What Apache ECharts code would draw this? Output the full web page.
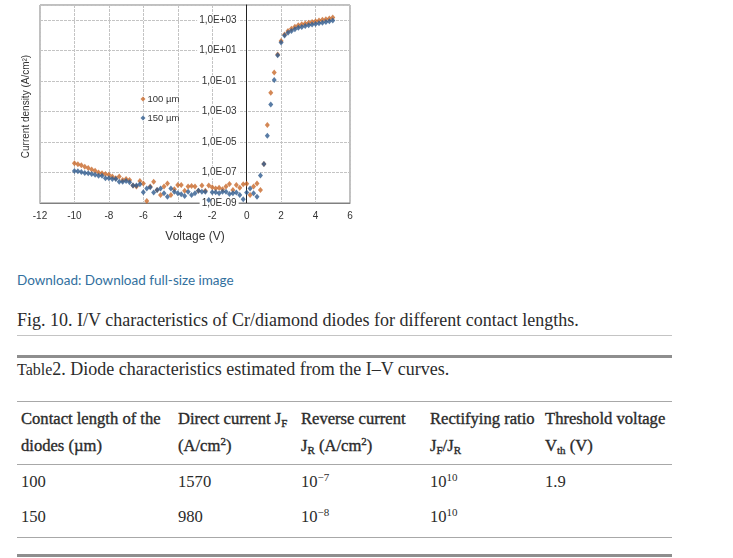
<!DOCTYPE html>
<html><head><meta charset="utf-8">
<script src="https://cdn.jsdelivr.net/npm/echarts@6/dist/echarts.min.js"></script>
<style>
html,body{margin:0;padding:0;background:#fff;}
body{width:733px;height:558px;position:relative;overflow:hidden;font-family:'Liberation Serif',serif;color:#2b2b2b;}
#chart{position:absolute;left:0;top:0;width:733px;height:252px;}
.t{position:absolute;white-space:nowrap;}
.ln{position:absolute;left:17px;width:655px;}
.hd{-webkit-text-stroke:0.35px #2b2b2b;}
.c{font-size:16.6px;line-height:20px;}
.sp{font-size:11px;position:relative;top:-6px;}
.sb{font-size:11px;position:relative;top:3px;}
</style></head>
<body>
<div id="chart"></div>
<div class="t" style="left:17px;top:272px;font-family:Lato,'Noto Sans',sans-serif;font-size:13.5px;line-height:17px;color:#32709e;">Download: Download full-size image</div>
<div class="t" style="left:17px;top:310px;font-size:18px;line-height:21px;">Fig. 10. I/V characteristics of Cr/diamond diodes for different contact lengths.</div>
<div class="ln" style="top:335px;height:1px;background:#c4c4c4;"></div>
<div class="ln" style="top:355px;height:3px;background:#8e8e8e;"></div>
<div class="t" style="left:17px;top:359px;font-size:18px;line-height:21px;"><span style="font-size:16px;">Table</span>2. Diode characteristics estimated from the I–V curves.</div>
<div class="ln" style="top:401px;height:1px;background:#a8a8a8;"></div>
<div class="ln" style="top:464px;height:1px;background:#a8a8a8;"></div>
<div class="ln" style="top:537px;height:1px;background:#a8a8a8;"></div>
<div class="ln" style="top:554px;height:3px;background:#8e8e8e;"></div>

<div class="t c hd" style="left:21px;top:409px;">Contact length of the</div>
<div class="t c hd" style="left:21px;top:436px;">diodes (µm)</div>
<div class="t c hd" style="left:178px;top:409px;">Direct current J<span class="sb">F</span></div>
<div class="t c hd" style="left:178px;top:436px;">(A/cm<span class="sp">2</span>)</div>
<div class="t c hd" style="left:301px;top:409px;">Reverse current</div>
<div class="t c hd" style="left:301px;top:436px;">J<span class="sb">R</span> (A/cm<span class="sp">2</span>)</div>
<div class="t c hd" style="left:430px;top:409px;">Rectifying ratio</div>
<div class="t c hd" style="left:430px;top:436px;">J<span class="sb">F</span>/J<span class="sb">R</span></div>
<div class="t c hd" style="left:545px;top:409px;">Threshold voltage</div>
<div class="t c hd" style="left:545px;top:436px;">V<span class="sb">th</span> (V)</div>

<div class="t c" style="left:21px;top:472px;">100</div>
<div class="t c" style="left:178px;top:472px;">1570</div>
<div class="t c" style="left:301px;top:472px;">10<span class="sp">−7</span></div>
<div class="t c" style="left:430px;top:472px;">10<span class="sp">10</span></div>
<div class="t c" style="left:545px;top:472px;">1.9</div>
<div class="t c" style="left:21px;top:507px;">150</div>
<div class="t c" style="left:178px;top:507px;">980</div>
<div class="t c" style="left:301px;top:507px;">10<span class="sp">−8</span></div>
<div class="t c" style="left:430px;top:507px;">10<span class="sp">10</span></div>

<script>
const voltage = [-10,-9.8,-9.6,-9.4,-9.2,-9,-8.8,-8.6,-8.4,-8.2,-8,-7.8,-7.6,-7.4,-7.2,-7,-6.8,-6.6,-6.4,-6.2,-6,-5.8,-5.6,-5.4,-5.2,-5,-4.8,-4.6,-4.4,-4.2,-4,-3.8,-3.6,-3.4,-3.2,-3,-2.8,-2.6,-2.4,-2.2,-2,-1.8,-1.6,-1.4,-1.2,-1,-0.8,-0.6,-0.4,-0.2,0,0.2,0.4,0.6,0.8,1,1.2,1.4,1.6,1.8,2,2.2,2.4,2.6,2.8,3,3.2,3.4,3.6,3.8,4,4.2,4.4,4.6,4.8,5];
const j100 = [4.0e-7,3.5e-7,3.0e-7,2.4e-7,2.0e-7,1.6e-7,1.3e-7,1.0e-7,8.9e-8,8.0e-8,7.2e-8,5.4e-8,4.2e-8,5.4e-8,3.2e-8,3.7e-8,3.2e-8,1.4e-8,1.2e-8,2.8e-8,1.9e-8,1.35e-9,1.2e-8,2.5e-8,7.1e-9,3.3e-9,1.2e-8,1.9e-8,3.3e-9,7.9e-9,1.5e-8,1.5e-8,6.4e-9,1.2e-8,1.3e-8,1.2e-8,6.4e-9,1.4e-8,6.4e-9,1.4e-8,1.07e-8,9.1e-9,1.0e-8,7.9e-9,1.2e-8,1.8e-8,7.1e-9,1.5e-8,1.0e-8,1.7e-8,
  1.85e-8,3.3e-9,1.2e-8,1.9e-8,7.1e-9,3.6e-7,1.3e-4,1.7e-2,0.37,5.6,44,115,200,280,380,470,537,617,692,776,871,955,1070,1175,1318,1510];
const j150 = [1.26e-7,1.2e-7,1.07e-7,9.3e-8,8.9e-8,8.0e-8,7.2e-8,6.2e-8,6.2e-8,4.2e-8,4.2e-8,3.7e-8,3.7e-8,2.5e-8,2.5e-8,2.8e-8,2.3e-8,1.4e-8,1.4e-8,1.7e-8,5.0e-9,9.1e-9,1.07e-8,4.8e-9,7.1e-9,9.1e-9,4.3e-9,2.6e-9,9.1e-9,5.5e-9,4.3e-9,3.7e-9,2.9e-9,5.5e-9,3.3e-9,4.3e-9,6.4e-9,5.5e-9,5.5e-9,1.6e-9,5.0e-9,5.0e-9,4.3e-9,5.5e-9,5.5e-9,3.9e-9,4.3e-9,4.8e-9,3.3e-9,1.75e-9,
  4.8e-9,9.1e-9,4.3e-9,2.6e-9,6.3e-8,3.6e-7,2.6e-5,2.95e-3,0.117,5.0,35,100,148,200,257,316,363,417,468,525,575,631,692,759,851,955];
const seriesNames = ['100 µm','150 µm'];
const seriesColors = ['#c8692a','#2f5b8e'];

const chart = echarts.init(document.getElementById('chart'));
const fam = "'Liberation Sans', Arial, sans-serif";
const gridLeft = 40, gridWidth = 310, xMin = -12, xMax = 6;
const fmtY = v => {
  const e = Math.round(Math.log10(v));
  if (e > 3) return '';
  const a = Math.abs(e);
  return '1,0E' + (e >= 0 ? '+' : '-') + (a < 10 ? '0' : '') + a;
};
chart.setOption({
  animation: false,
  textStyle: {fontFamily: fam},
  grid: {left: gridLeft, top: 5, width: gridWidth, height: 198, show: true, borderColor: '#808080', borderWidth: 1},
  legend: {
    data: seriesNames, orient: 'vertical', left: 140.5, top: 93, padding: 0, icon: 'diamond',
    itemWidth: 5, itemHeight: 5, itemGap: 7,
    textStyle: {fontSize: 9.5, color: '#333', lineHeight: 12, fontFamily: fam, padding: [0, 0, 0, -3]}
  },
  xAxis: {
    type: 'value', min: xMin, max: xMax, interval: 2,
    axisLine: {onZero: false, lineStyle: {color: '#808080'}},
    axisTick: {show: false},
    axisLabel: {fontSize: 10, color: '#333', margin: 8},
    splitLine: {lineStyle: {color: '#c4c4c4', type: [3, 1]}},
    name: 'Voltage (V)', nameLocation: 'middle', nameGap: 28,
    nameTextStyle: {fontSize: 12, color: '#333'}
  },
  yAxis: {
    type: 'log', logBase: 10, min: 1e-9, max: 1e4, interval: 2,
    // place the y axis (line + labels) at V = 0
    offset: -(0 - xMin) / (xMax - xMin) * gridWidth,
    axisLine: {onZero: false, lineStyle: {color: '#222'}},
    axisTick: {show: false},
    axisLabel: {fontSize: 10, color: '#333', margin: 8, formatter: fmtY, backgroundColor: '#fff', padding: [1, 2], showMaxLabel: false},
    splitLine: {lineStyle: {color: '#c4c4c4', type: [3, 1]}}
  },
  graphic: [{
    type: 'text', x: 26, y: 106.5, rotation: Math.PI / 2,
    style: {text: 'Current density (A/cm²)', fontSize: 10, fill: '#333', align: 'center', verticalAlign: 'middle', fontFamily: fam}
  }],
  series: [
    {name: seriesNames[0], type: 'scatter', symbol: 'diamond', symbolSize: [5, 6],
     itemStyle: {color: seriesColors[0]}, data: voltage.map((v, i) => [v, j100[i]])},
    {name: seriesNames[1], type: 'scatter', symbol: 'diamond', symbolSize: [5, 6],
     itemStyle: {color: seriesColors[1]}, data: voltage.map((v, i) => [v, j150[i]])}
  ]
});
</script>
</body></html>
